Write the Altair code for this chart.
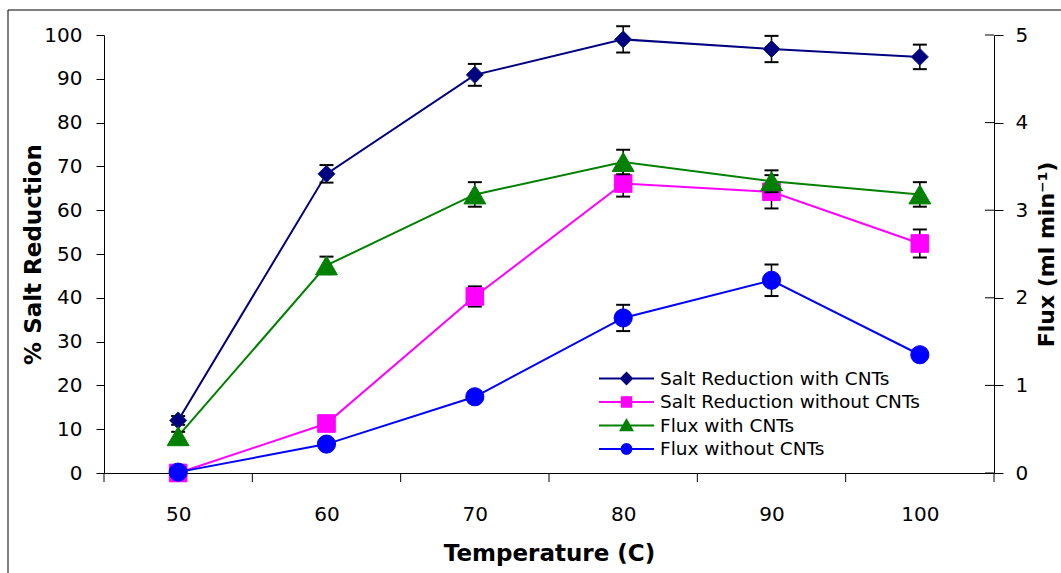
import altair as alt
import pandas as pd

# ---------------- data ----------------
temps = [50, 60, 70, 80, 90, 100]

salt_with = [12.0, 68.3, 90.9, 99.0, 96.8, 95.0]
salt_with_err = [1.0, 2.0, 2.5, 3.0, 3.0, 2.8]

salt_without = [0.0, 11.3, 40.3, 66.1, 64.2, 52.4]
salt_without_err = [0.0, 1.0, 2.3, 3.0, 3.8, 3.2]

flux_with = [0.42, 2.37, 3.18, 3.55, 3.33, 3.18]
flux_with_err = [0.05, 0.10, 0.14, 0.14, 0.125, 0.14]

flux_without = [0.01, 0.33, 0.87, 1.77, 2.20, 1.35]
flux_without_err = [0.02, 0.05, 0.05, 0.15, 0.18, 0.05]

series_names = [
    "Salt Reduction with CNTs",
    "Salt Reduction without CNTs",
    "Flux with CNTs",
    "Flux without CNTs",
]
series_colors = ["#000080", "#FF00FF", "#008000", "#0000FF"]
marker_shapes = ["diamond", "square", "triangle-up", "circle"]
marker_sizes = [290, 310, 480, 330]
marker_strokes = ["#0B2D63", "#FF00FF", "#008000", "#0000FF"]
legend_paths = [
    "M-1,0H1M0,-0.2L0.2,0L0,0.2L-0.2,0Z",
    "M-1,0H1M-0.17,-0.17H0.17V0.17H-0.17Z",
    "M-1,0H1M0,-0.2L0.21,0.17L-0.21,0.17Z",
    "M-1,0H1M-0.18,0A0.18,0.18,0,1,0,0.18,0A0.18,0.18,0,1,0,-0.18,0Z",
]

x_tick_values = [45, 55, 65, 75, 85, 95, 105]
left_ticks = [0, 10, 20, 30, 40, 50, 60, 70, 80, 90, 100]
right_ticks = [0, 1, 2, 3, 4, 5]

W, H = 890, 438
FONT = "DejaVu Sans"

xscale = alt.Scale(domain=[45, 105], nice=False, zero=False)
xaxis = alt.Axis(
    values=temps, ticks=False, tickSize=0, labelPadding=31, labelFlush=False,
    labelFont=FONT, labelFontSize=20, labelColor="black", format="d",
    title="Temperature (C)", titleFont=FONT, titleFontSize=23, titleFontWeight="bold",
    titleColor="black", titleX=445, titleY=80, titleBaseline="middle",
    domainColor="black", domainWidth=1, grid=False,
)
left_scale = alt.Scale(domain=[0, 100], nice=False, zero=True)
left_axis = alt.Axis(
    orient="left", values=left_ticks, tickSize=8, tickColor="black", labelPadding=14,
    labelFont=FONT, labelFontSize=20, labelColor="black",
    title="% Salt Reduction", titleFont=FONT, titleFontSize=23, titleFontWeight="bold",
    titleColor="black", titleX=-71, titleY=H / 2, titleAngle=270, titleBaseline="middle",
    domainColor="black", grid=False,
)
right_scale = alt.Scale(domain=[0, 5], nice=False, zero=True)
right_axis = alt.Axis(
    orient="right", values=right_ticks, tickSize=9, tickColor="black", labelPadding=12,
    labelFont=FONT, labelFontSize=20, labelColor="black",
    title="Flux (ml min⁻¹)", titleFont=FONT, titleFontSize=22, titleFontWeight="bold",
    titleColor="black", titleX=52, titleY=H / 2, titleAngle=270, titleBaseline="middle",
    domainColor="black", grid=False,
)


def series_layers(idx, values, errs, yscale, yaxis):
    df = pd.DataFrame({"temp": temps, "value": values, "err": errs})
    df["lo"] = df["value"] - df["err"]
    df["hi"] = df["value"] + df["err"]
    errdf = df[df["err"] > 0]
    color = series_colors[idx]
    x = alt.X("temp:Q", scale=xscale, axis=xaxis)
    line = alt.Chart(df).mark_line(color=color, strokeWidth=2).encode(
        x=x, y=alt.Y("value:Q", scale=yscale, axis=yaxis)
    )
    stem = alt.Chart(errdf).mark_rule(color="black", strokeWidth=1.5).encode(
        x=x, y=alt.Y("lo:Q", scale=yscale, axis=yaxis), y2="hi:Q"
    )
    cap_lo = alt.Chart(errdf).mark_tick(
        orient="horizontal", size=14, thickness=2, color="black", opacity=1
    ).encode(x=x, y=alt.Y("lo:Q", scale=yscale, axis=yaxis))
    cap_hi = alt.Chart(errdf).mark_tick(
        orient="horizontal", size=14, thickness=2, color="black", opacity=1
    ).encode(x=x, y=alt.Y("hi:Q", scale=yscale, axis=yaxis))
    pts = alt.Chart(df).mark_point(
        filled=True, shape=marker_shapes[idx], size=marker_sizes[idx], fill=color,
        stroke=marker_strokes[idx], strokeWidth=1, opacity=1,
    ).encode(x=x, y=alt.Y("value:Q", scale=yscale, axis=yaxis))
    return [line, stem, cap_lo, cap_hi, pts]


# frame of the chart area
frame = alt.Chart(pd.DataFrame({"a": [0]})).mark_rect(
    fill="transparent", stroke="black", strokeWidth=1
).encode(x=alt.value(-96), x2=alt.value(W + 200), y=alt.value(-25), y2=alt.value(H + 200))

# category-boundary ticks on the x axis
xticks = alt.Chart(pd.DataFrame({"t": x_tick_values})).mark_rule(color="black").encode(
    x=alt.X("t:Q", scale=xscale, axis=xaxis), y=alt.value(H), y2=alt.value(H + 9)
)

# legend-only layer (no data drawn)
leg = alt.Legend(
    orient="none", legendX=494, legendY=333, title=None, padding=0,
    labelFont=FONT, labelFontSize=18.5, labelColor="black", labelLimit=500,
    labelOffset=5, symbolSize=3025, symbolStrokeWidth=2, clipHeight=21, rowPadding=2.5,
)
legend_layer = alt.Chart(pd.DataFrame({"series": series_names})).transform_filter(
    "false"
).mark_point(filled=True, strokeWidth=2, opacity=1, size=3025).encode(
    color=alt.Color("series:N", scale=alt.Scale(domain=series_names, range=series_colors), legend=leg),
    stroke=alt.Stroke("series:N", scale=alt.Scale(domain=series_names, range=series_colors), legend=leg),
    shape=alt.Shape("series:N", scale=alt.Scale(domain=series_names, range=legend_paths), legend=leg),
)

left_layers = [frame, xticks]
left_layers += series_layers(0, salt_with, salt_with_err, left_scale, left_axis)
left_layers += series_layers(1, salt_without, salt_without_err, left_scale, left_axis)
left_layers.append(legend_layer)

inner_ticks = alt.Chart(pd.DataFrame({"v": right_ticks})).mark_rule(color="black").encode(
    y=alt.Y("v:Q", scale=right_scale, axis=right_axis), x=alt.value(W - 9), x2=alt.value(W)
)
right_layers = [inner_ticks]
right_layers += series_layers(2, flux_with, flux_with_err, right_scale, right_axis)
right_layers += series_layers(3, flux_without, flux_without_err, right_scale, right_axis)

left = alt.layer(*left_layers)
right = alt.layer(*right_layers)

chart = alt.layer(left, right).resolve_scale(y="independent").properties(
    width=W, height=H,
    autosize=alt.AutoSizeParams(type="none"),
    padding={"left": 104, "top": 35, "right": 67, "bottom": 100},
    background="white",
).configure_view(stroke=None)

chart.save("out.html", embed_options={"renderer": "svg", "actions": False})
